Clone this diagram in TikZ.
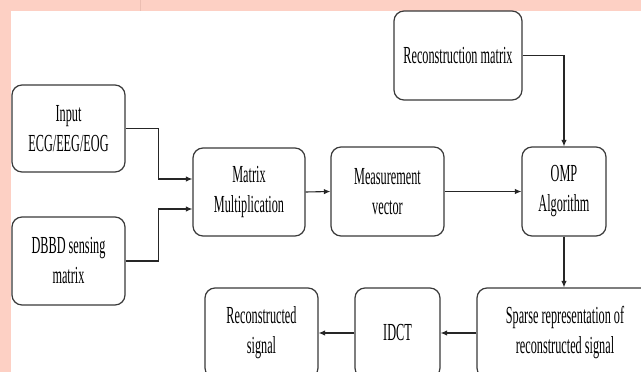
\documentclass[tikz,border=0pt]{standalone}
\usepackage{fontspec}
\setmainfont{Liberation Serif}[FakeStretch=0.5]
\usetikzlibrary{arrows.meta}
\definecolor{bandpink}{RGB}{253,208,196}
\definecolor{bandline}{RGB}{236,190,178}
\definecolor{edge}{RGB}{58,58,58}
\tikzset{
  blockbox/.style={draw=edge, line width=1.2pt, rounded corners=10pt, fill=white,
    align=center, inner sep=0pt, font=\fontsize{24.5}{30}\selectfont},
  flow/.style={draw=black!85, line width=1.1pt, -{Latex[length=6.5pt,width=5.5pt]}},
  link/.style={draw=black!85, line width=1.1pt}
}
\begin{document}
\begin{tikzpicture}[x=1pt,y=-1pt]
  \useasboundingbox (0,0) rectangle (641,372);
  \clip (0,0) rectangle (641,372);
  % page background with its tinted margins
  \fill[bandpink] (0,0) rectangle (641,372);
  \fill[white] (11,11) rectangle (641,372);
  \draw[bandline, line width=0.6pt] (140,0) -- (140,11);

  % blocks
  \node[blockbox, minimum width=113pt, minimum height=87pt] (in) at (68.5,128.5) {Input\\ECG/EEG/EOG};
  \node[blockbox, minimum width=113pt, minimum height=88pt] (dbbd) at (68.5,261) {DBBD sensing\\matrix};
  \node[blockbox, minimum width=112pt, minimum height=88pt] (mm) at (249,192) {Matrix\\Multiplication};
  \node[blockbox, minimum width=113pt, minimum height=89pt] (mv) at (387.5,191.5) {Measurement\\vector};
  \node[blockbox, minimum width=84pt, minimum height=89pt] (omp) at (564,191.5) {OMP\\Algorithm};
  \node[blockbox, minimum width=128pt, minimum height=89pt] (rm) at (458,55.5) {Reconstruction matrix};
  \node[blockbox, minimum width=176pt, minimum height=90pt] (sp) at (565,333) {Sparse representation of\\reconstructed signal};
  \node[blockbox, minimum width=85pt, minimum height=90pt] (idct) at (397.5,333) {IDCT};
  \node[blockbox, minimum width=113pt, minimum height=90pt] (rs) at (261.5,333) {Reconstructed\\signal};

  % connectors
  \draw[flow] (in.east) -- ++(33,0) |- ([yshift=13pt]mm.west);
  \draw[flow] (dbbd.east) -- ++(33,0) |- ([yshift=-17pt]mm.west);
  \draw[flow] (mm.east) -- (mv.west);
  \draw[flow] (mv.east) -- (omp.west);
  \draw[flow] (rm.east) -| (omp.north);
  \draw[flow] (omp.south) -- (omp.south |- sp.north);
  \draw[flow] (sp.west) -- (idct.east);
  \draw[flow] (idct.west) -- (rs.east);
\end{tikzpicture}
\end{document}
